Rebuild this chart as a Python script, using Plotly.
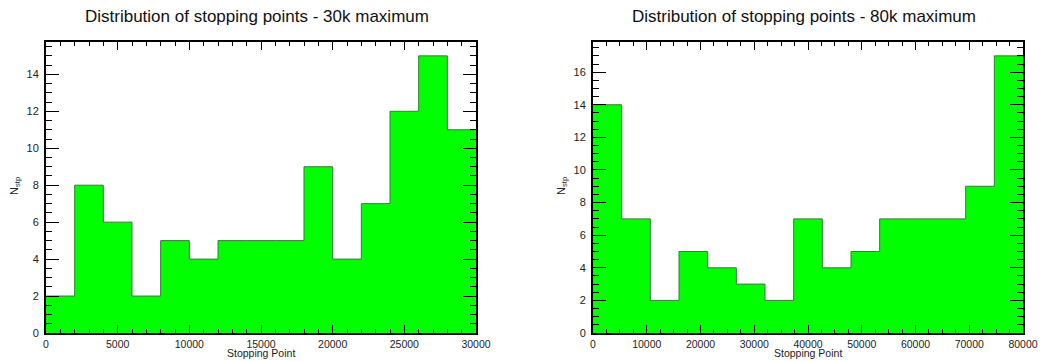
import numpy as np
import plotly.graph_objects as go

# Histogram contents (entries per bin)
counts_30k = [2, 8, 6, 2, 5, 4, 5, 5, 5, 9, 4, 7, 12, 15, 11]
counts_80k = [14, 7, 2, 5, 4, 3, 2, 7, 4, 5, 7, 7, 7, 9, 17]

# Binning: 15 equal bins over [0, max]
range_30k = (0, 30000)
range_80k = (0, 80000)

titles = ["Distribution of stopping points - 30k maximum",
          "Distribution of stopping points - 80k maximum"]
x_title = "Stopping Point"
y_title = "N<sub>stp</sub>"

FILL = "#00ff00"
EDGE = "#3c7a3c"
FONT = "Liberation Sans, Arial, Helvetica, sans-serif"


def step_trace(counts, xr, xaxis, yaxis):
    edges = np.linspace(xr[0], xr[1], len(counts) + 1)
    ys = list(counts) + [counts[-1]]
    return go.Scatter(
        x=edges, y=ys, mode="lines", line=dict(shape="hv", color=EDGE, width=1),
        fill="tozeroy", fillcolor=FILL, xaxis=xaxis, yaxis=yaxis,
        hoverinfo="skip", showlegend=False,
    )


fig = go.Figure()
fig.add_trace(step_trace(counts_30k, range_30k, "x", "y"))
fig.add_trace(step_trace(counts_80k, range_80k, "x2", "y2"))

y_dom = [1 - 333 / 361, 1 - 42 / 361]
x_doms = [[46 / 1043, 476 / 1043], [593 / 1043, 1023 / 1043]]

tick_font = dict(family=FONT, size=11, color="#222")
xtick_font = dict(family=FONT, size=10.5, color="#222")


def x_axis(dom, xr, dtick, minor):
    return dict(
        domain=dom, range=list(xr), dtick=dtick, tick0=0, tickformat="d",
        ticks="inside", ticklen=8, tickwidth=1, tickcolor="black",
        minor=dict(dtick=minor, ticks="inside", ticklen=4, tickcolor="black", tickwidth=1),
        showline=True, linecolor="black", linewidth=2, mirror="allticks",
        showgrid=False, zeroline=False, tickfont=xtick_font, automargin=False,
        ticklabelstandoff=0,
    )


def y_axis(anchor, ymax):
    return dict(
        domain=y_dom, range=[0, ymax], dtick=2, tick0=0, anchor=anchor,
        ticks="inside", ticklen=13, tickwidth=1, tickcolor="black",
        minor=dict(dtick=0.5, ticks="inside", ticklen=6, tickcolor="black", tickwidth=1),
        showline=True, linecolor="black", linewidth=2, mirror="allticks",
        showgrid=False, zeroline=False, tickfont=tick_font, automargin=False,
        ticklabelstandoff=3,
    )


fig.update_layout(
    width=1043, height=361,
    margin=dict(l=0, r=0, t=0, b=0),
    paper_bgcolor="white", plot_bgcolor="white",
    xaxis=x_axis(x_doms[0], range_30k, 5000, 1000) | dict(anchor="y"),
    yaxis=y_axis("x", max(counts_30k) * 1.05),
    xaxis2=x_axis(x_doms[1], range_80k, 10000, 2500) | dict(anchor="y2"),
    yaxis2=y_axis("x2", max(counts_80k) * 1.05),
)

annotations = []
for dom, t in zip(x_doms, titles):
    annotations.append(dict(
        text=t, x=(dom[0] + dom[1]) / 2 - 0.004, y=1 - 16.5 / 361, xref="paper", yref="paper",
        showarrow=False, xanchor="center", yanchor="middle",
        font=dict(family=FONT, size=17, color="#111"),
    ))
for dom in x_doms:
    annotations.append(dict(
        text=y_title, x=dom[0] - 31 / 1043, y=1 - 186 / 361, xref="paper", yref="paper",
        showarrow=False, textangle=-90, xanchor="center", yanchor="middle",
        font=dict(family=FONT, size=11, color="#222"),
    ))
    annotations.append(dict(
        text=x_title, x=(dom[0] + dom[1]) / 2, y=0, xref="paper", yref="paper",
        showarrow=False, xanchor="center", yanchor="bottom", borderpad=0, yshift=1,
        font=dict(family=FONT, size=10.5, color="#222"),
    ))
fig.update_layout(annotations=annotations)

fig.write_html("out.html")
